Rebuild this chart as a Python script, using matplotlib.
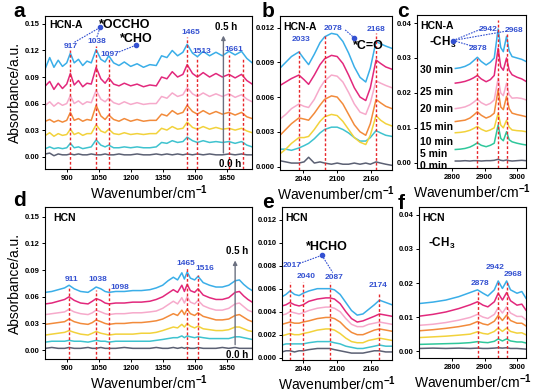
import matplotlib.pyplot as plt
from matplotlib.ticker import FormatStrFormatter

plt.rcParams['font.family'] = ['Liberation Sans', 'DejaVu Sans']
plt.rcParams['font.weight'] = 'bold'
plt.rcParams['mathtext.fontset'] = 'custom'
plt.rcParams['mathtext.rm'] = 'Liberation Sans:bold'
plt.rcParams['mathtext.bf'] = 'Liberation Sans:bold'
plt.rcParams['mathtext.default'] = 'bf'

# ---------------- data ----------------
# panel a : HCN-A, 800-1770 cm-1
a_x = [800, 820, 840, 860, 880, 900, 917, 935, 955, 975, 995, 1015, 1038, 1060, 1080,
       1097, 1120, 1145, 1170, 1200, 1230, 1260, 1290, 1320, 1345, 1370, 1395, 1420, 1445, 1465,
       1490, 1513, 1540, 1570, 1600, 1630, 1661, 1690, 1720, 1745, 1770]
a_30 = [0.100, 0.112, 0.101, 0.109, 0.102, 0.106, 0.117, 0.106, 0.110, 0.103,
        0.108, 0.106, 0.121, 0.110, 0.107, 0.114, 0.106, 0.103, 0.107, 0.102,
        0.105, 0.101, 0.104, 0.103, 0.114, 0.112, 0.120, 0.114, 0.118, 0.127,
        0.117, 0.113, 0.119, 0.114, 0.118, 0.114, 0.119, 0.115, 0.119, 0.111, 0.106]
a_25 = [0.080, 0.085, 0.076, 0.083, 0.077, 0.082, 0.094, 0.081, 0.086, 0.079,
        0.083, 0.082, 0.101, 0.088, 0.083, 0.089, 0.082, 0.080, 0.083, 0.080,
        0.082, 0.079, 0.081, 0.080, 0.090, 0.088, 0.096, 0.090, 0.093, 0.104,
        0.094, 0.090, 0.095, 0.090, 0.094, 0.090, 0.093, 0.089, 0.093, 0.086, 0.082]
a_20 = [0.058, 0.062, 0.057, 0.061, 0.058, 0.060, 0.069, 0.060, 0.063, 0.059,
        0.062, 0.061, 0.075, 0.065, 0.062, 0.066, 0.061, 0.059, 0.062, 0.059,
        0.061, 0.059, 0.060, 0.060, 0.068, 0.066, 0.072, 0.068, 0.070, 0.078,
        0.071, 0.068, 0.072, 0.068, 0.071, 0.068, 0.071, 0.067, 0.070, 0.065, 0.062]
a_15 = [0.040, 0.042, 0.039, 0.041, 0.039, 0.041, 0.050, 0.041, 0.043, 0.040,
        0.042, 0.041, 0.058, 0.046, 0.042, 0.047, 0.042, 0.040, 0.043, 0.040,
        0.042, 0.040, 0.041, 0.041, 0.048, 0.046, 0.052, 0.048, 0.050, 0.058,
        0.051, 0.048, 0.052, 0.048, 0.051, 0.048, 0.050, 0.047, 0.050, 0.045, 0.043]
a_10 = [0.024, 0.027, 0.023, 0.026, 0.024, 0.025, 0.031, 0.025, 0.027, 0.024,
        0.026, 0.026, 0.036, 0.029, 0.027, 0.031, 0.026, 0.025, 0.027, 0.025,
        0.026, 0.025, 0.026, 0.026, 0.032, 0.030, 0.034, 0.031, 0.032, 0.039,
        0.033, 0.031, 0.034, 0.031, 0.033, 0.031, 0.032, 0.030, 0.032, 0.029, 0.027]
a_5 = [0.009, 0.011, 0.009, 0.010, 0.009, 0.010, 0.015, 0.010, 0.011, 0.009,
       0.010, 0.011, 0.019, 0.013, 0.011, 0.013, 0.010, 0.010, 0.011, 0.010,
       0.011, 0.010, 0.010, 0.011, 0.016, 0.015, 0.018, 0.016, 0.017, 0.022,
       0.018, 0.016, 0.018, 0.016, 0.017, 0.016, 0.017, 0.015, 0.017, 0.013, 0.011]
a_0 = [0.003, 0.004, 0.001, 0.003, 0.002, 0.002, 0.003, 0.002, 0.003, 0.002,
       0.002, 0.003, 0.002, 0.002, 0.003, 0.002, 0.002, 0.003, 0.002, 0.002,
       0.003, 0.002, 0.002, 0.003, 0.002, 0.003, 0.002, 0.003, 0.002, 0.003,
       0.002, 0.003, 0.002, 0.003, 0.002, 0.002, 0.003, 0.002, 0.003, 0.002, 0.002]

# panel b : HCN-A, 2000-2196 cm-1
b_x = [2000, 2010, 2020, 2033, 2042, 2050, 2060, 2070, 2078, 2090, 2100,
       2110, 2120, 2130, 2140, 2150, 2158, 2168, 2176, 2185, 2196]
b_30 = [0.0085, 0.0090, 0.0095, 0.0099, 0.0093, 0.0088, 0.0097, 0.0107, 0.0112, 0.0115, 0.0114,
        0.0108, 0.0098, 0.0086, 0.0077, 0.0073, 0.0085, 0.0108, 0.0106, 0.0104, 0.0102]
b_25 = [0.0070, 0.0073, 0.0076, 0.0079, 0.0075, 0.0071, 0.0079, 0.0088, 0.0093, 0.0096, 0.0095,
        0.0089, 0.0079, 0.0068, 0.0060, 0.0057, 0.0068, 0.0092, 0.0089, 0.0086, 0.0084]
b_20 = [0.0041, 0.0045, 0.0050, 0.0054, 0.0052, 0.0051, 0.0058, 0.0068, 0.0074, 0.0079, 0.0078,
        0.0073, 0.0064, 0.0054, 0.0047, 0.0045, 0.0055, 0.0074, 0.0072, 0.0070, 0.0068]
b_15 = [0.0027, 0.0032, 0.0037, 0.0042, 0.0041, 0.0040, 0.0046, 0.0053, 0.0058, 0.0061, 0.0060,
        0.0054, 0.0045, 0.0036, 0.0030, 0.0027, 0.0037, 0.0058, 0.0055, 0.0052, 0.0050]
b_10 = [0.0011, 0.0015, 0.0020, 0.0025, 0.0025, 0.0026, 0.0032, 0.0039, 0.0043, 0.0045, 0.0044,
        0.0039, 0.0032, 0.0025, 0.0021, 0.0019, 0.0027, 0.0044, 0.0040, 0.0037, 0.0035]
b_5 = [0.0015, 0.0015, 0.0014, 0.0016, 0.0018, 0.0020, 0.0024, 0.0029, 0.0032, 0.0034, 0.0034,
       0.0032, 0.0029, 0.0025, 0.0022, 0.0022, 0.0025, 0.0031, 0.0029, 0.0027, 0.0026]
b_0 = [0.0005, 0.0004, 0.0003, 0.0003, 0.0004, 0.0008, 0.0003, 0.0004, 0.0003, 0.0002, 0.0003,
       0.0002, 0.0002, 0.0003, 0.0002, 0.0003, 0.0002, 0.0004, 0.0003, 0.0002, 0.0001]

# panel c : HCN-A, C-H stretch region
c_x = [2810, 2825, 2840, 2855, 2866, 2878, 2890, 2905, 2918, 2930,
       2942, 2950, 2958, 2968, 2976, 2985, 3000, 3015, 3028]
c_30 = [0.0270, 0.0272, 0.0276, 0.0283, 0.0292, 0.0302, 0.0290, 0.0280, 0.0288, 0.0300,
        0.0383, 0.0330, 0.0318, 0.0362, 0.0320, 0.0304, 0.0300, 0.0296, 0.0290]
c_25 = [0.0228, 0.0230, 0.0233, 0.0238, 0.0243, 0.0250, 0.0240, 0.0232, 0.0238, 0.0250,
        0.0328, 0.0275, 0.0265, 0.0300, 0.0265, 0.0252, 0.0245, 0.0240, 0.0233]
c_20 = [0.0155, 0.0157, 0.0160, 0.0166, 0.0173, 0.0182, 0.0172, 0.0165, 0.0170, 0.0180,
        0.0242, 0.0200, 0.0192, 0.0228, 0.0195, 0.0185, 0.0186, 0.0184, 0.0180]
c_15 = [0.0118, 0.0120, 0.0122, 0.0128, 0.0136, 0.0146, 0.0136, 0.0128, 0.0133, 0.0142,
        0.0209, 0.0160, 0.0152, 0.0190, 0.0155, 0.0142, 0.0138, 0.0135, 0.0132]
c_10 = [0.0086, 0.0087, 0.0089, 0.0093, 0.0098, 0.0104, 0.0096, 0.0090, 0.0094, 0.0100,
        0.0142, 0.0108, 0.0100, 0.0122, 0.0102, 0.0094, 0.0092, 0.0091, 0.0089]
c_5 = [0.0038, 0.0039, 0.0041, 0.0045, 0.0050, 0.0057, 0.0050, 0.0046, 0.0050, 0.0056,
       0.0108, 0.0070, 0.0063, 0.0089, 0.0066, 0.0060, 0.0056, 0.0053, 0.0051]
c_0 = [0.0005, 0.0005, 0.0006, 0.0005, 0.0006, 0.0006, 0.0005, 0.0006, 0.0006, 0.0007,
       0.0010, 0.0007, 0.0006, 0.0008, 0.0006, 0.0005, 0.0006, 0.0007, 0.0006]
c_times = ['30 min', '25 min', '20 min', '15 min', '10 min', '5 min', '0 min']
c_time_y = [0.0266, 0.0204, 0.0153, 0.0103, 0.0060, 0.0025, -0.0009]

# panel d : HCN, 800-1770 cm-1
d_x = [800, 830, 860, 890, 911, 935, 965, 1000, 1020, 1038, 1060, 1080, 1098, 1130, 1170,
       1210, 1250, 1290, 1320, 1350, 1375, 1400, 1420, 1440, 1452, 1465, 1480, 1500, 1516, 1540,
       1570, 1600, 1630, 1660, 1690, 1710, 1730, 1750, 1770]
d_30 = [0.065, 0.066, 0.068, 0.070, 0.073, 0.069, 0.066, 0.065, 0.068, 0.071,
        0.069, 0.066, 0.065, 0.066, 0.066, 0.067, 0.067, 0.068, 0.070, 0.073,
        0.078, 0.082, 0.079, 0.087, 0.080, 0.088, 0.081, 0.079, 0.083, 0.076,
        0.073, 0.071, 0.071, 0.073, 0.078, 0.079, 0.074, 0.070, 0.067]
d_25 = [0.052, 0.053, 0.055, 0.057, 0.060, 0.056, 0.053, 0.052, 0.055, 0.058,
        0.056, 0.053, 0.052, 0.053, 0.053, 0.054, 0.054, 0.055, 0.057, 0.060,
        0.064, 0.068, 0.065, 0.073, 0.066, 0.074, 0.067, 0.065, 0.069, 0.062,
        0.059, 0.057, 0.057, 0.059, 0.065, 0.066, 0.061, 0.057, 0.054]
d_20 = [0.040, 0.041, 0.042, 0.043, 0.046, 0.043, 0.041, 0.040, 0.042, 0.045,
        0.043, 0.041, 0.040, 0.041, 0.041, 0.042, 0.042, 0.043, 0.044, 0.047,
        0.051, 0.055, 0.052, 0.059, 0.053, 0.060, 0.054, 0.052, 0.056, 0.050,
        0.047, 0.045, 0.045, 0.047, 0.052, 0.053, 0.049, 0.045, 0.043]
d_15 = [0.029, 0.030, 0.031, 0.032, 0.035, 0.032, 0.030, 0.029, 0.031, 0.034,
        0.032, 0.030, 0.029, 0.030, 0.030, 0.031, 0.031, 0.032, 0.033, 0.035,
        0.038, 0.041, 0.039, 0.045, 0.040, 0.046, 0.041, 0.039, 0.042, 0.038,
        0.036, 0.034, 0.034, 0.035, 0.039, 0.040, 0.037, 0.034, 0.032]
d_10 = [0.017, 0.018, 0.019, 0.020, 0.022, 0.020, 0.018, 0.017, 0.019, 0.021,
        0.019, 0.018, 0.017, 0.018, 0.018, 0.018, 0.019, 0.019, 0.020, 0.022,
        0.024, 0.026, 0.025, 0.029, 0.026, 0.030, 0.027, 0.025, 0.027, 0.024,
        0.023, 0.022, 0.022, 0.023, 0.026, 0.026, 0.024, 0.022, 0.021]
d_5 = [0.009, 0.010, 0.010, 0.010, 0.011, 0.010, 0.010, 0.009, 0.010, 0.011,
       0.010, 0.010, 0.009, 0.010, 0.010, 0.010, 0.010, 0.010, 0.011, 0.012,
       0.013, 0.014, 0.014, 0.016, 0.014, 0.016, 0.015, 0.014, 0.015, 0.014,
       0.013, 0.013, 0.013, 0.013, 0.015, 0.015, 0.014, 0.013, 0.012]
d_0 = [0.002, 0.003, 0.002, 0.002, 0.003, 0.002, 0.002, 0.003, 0.002, 0.002,
       0.003, 0.002, 0.002, 0.002, 0.003, 0.002, 0.002, 0.002, 0.003, 0.002,
       0.002, 0.003, 0.002, 0.003, 0.002, 0.003, 0.002, 0.002, 0.003, 0.002,
       0.002, 0.002, 0.003, 0.002, 0.003, 0.002, 0.002, 0.002, 0.002]

# panel e : HCN, 2003-2196 cm-1
e_x = [2003, 2010, 2017, 2025, 2033, 2040, 2050, 2065, 2080, 2087, 2095,
       2105, 2115, 2125, 2135, 2145, 2155, 2165, 2174, 2185, 2196]
e_30 = [0.0053, 0.0055, 0.0058, 0.0055, 0.0054, 0.0056, 0.0058, 0.0060, 0.0060, 0.0060, 0.0059,
        0.0055, 0.0048, 0.0041, 0.0037, 0.0038, 0.0042, 0.0046, 0.0050, 0.0048, 0.0046]
e_25 = [0.0045, 0.0046, 0.0048, 0.0046, 0.0045, 0.0046, 0.0049, 0.0051, 0.0052, 0.0052, 0.0051,
        0.0047, 0.0040, 0.0034, 0.0031, 0.0032, 0.0034, 0.0036, 0.0038, 0.0037, 0.0036]
e_20 = [0.0037, 0.0038, 0.0040, 0.0039, 0.0038, 0.0039, 0.0041, 0.0043, 0.0044, 0.0044, 0.0043,
        0.0040, 0.0034, 0.0029, 0.0027, 0.0027, 0.0029, 0.0030, 0.0031, 0.0030, 0.0029]
e_15 = [0.0029, 0.0030, 0.0031, 0.0030, 0.0030, 0.0031, 0.0032, 0.0034, 0.0035, 0.0035, 0.0034,
        0.0031, 0.0026, 0.0022, 0.0020, 0.0020, 0.0022, 0.0024, 0.0025, 0.0024, 0.0023]
e_10 = [0.0019, 0.0020, 0.0021, 0.0020, 0.0020, 0.0021, 0.0022, 0.0024, 0.0025, 0.0025, 0.0024,
        0.0021, 0.0017, 0.0014, 0.0013, 0.0013, 0.0015, 0.0016, 0.0017, 0.0016, 0.0015]
e_5 = [0.0011, 0.0012, 0.0012, 0.0012, 0.0012, 0.0012, 0.0013, 0.0014, 0.0014, 0.0014, 0.0013,
       0.0012, 0.0010, 0.0009, 0.0008, 0.0008, 0.0009, 0.0010, 0.0011, 0.0010, 0.0010]
e_0 = [0.0005, 0.0006, 0.0006, 0.0005, 0.0006, 0.0006, 0.0007, 0.0008, 0.0008, 0.0008, 0.0007,
       0.0006, 0.0005, 0.0004, 0.0004, 0.0004, 0.0005, 0.0006, 0.0006, 0.0005, 0.0005]

# panel f : HCN, C-H stretch region
f_x = [2700, 2740, 2780, 2820, 2855, 2878, 2895, 2910, 2930, 2942, 2955, 2968, 2980, 3000, 3015, 3028]
f_30 = [0.0140, 0.0144, 0.0150, 0.0160, 0.0172, 0.0180, 0.0170, 0.0162,
        0.0180, 0.0206, 0.0184, 0.0206, 0.0180, 0.0170, 0.0175, 0.0155]
f_25 = [0.0103, 0.0108, 0.0115, 0.0125, 0.0136, 0.0145, 0.0135, 0.0130,
        0.0145, 0.0170, 0.0150, 0.0172, 0.0148, 0.0135, 0.0138, 0.0120]
f_20 = [0.0076, 0.0079, 0.0084, 0.0091, 0.0099, 0.0108, 0.0100, 0.0096,
        0.0108, 0.0128, 0.0112, 0.0130, 0.0112, 0.0102, 0.0102, 0.0092]
f_15 = [0.0060, 0.0063, 0.0067, 0.0072, 0.0078, 0.0087, 0.0080, 0.0077,
        0.0088, 0.0105, 0.0090, 0.0106, 0.0090, 0.0082, 0.0082, 0.0074]
f_10 = [0.0040, 0.0042, 0.0044, 0.0047, 0.0050, 0.0057, 0.0052, 0.0050,
        0.0058, 0.0068, 0.0058, 0.0068, 0.0058, 0.0053, 0.0054, 0.0048]
f_5 = [0.0020, 0.0021, 0.0022, 0.0023, 0.0025, 0.0028, 0.0026, 0.0025,
       0.0029, 0.0036, 0.0030, 0.0036, 0.0030, 0.0027, 0.0027, 0.0024]
f_0 = [0.0008, 0.0009, 0.0008, 0.0009, 0.0008, 0.0009, 0.0008, 0.0008,
       0.0009, 0.0010, 0.0009, 0.0010, 0.0008, 0.0008, 0.0007, 0.0006]

# colours: 0, 5, 10, 15, 20, 25, 30 min
cols = ['#5b6073', '#3fc3cf', '#f2d23c', '#f28b3b', '#f6aacb', '#e2287c', '#3aaee8']
cols_ch = ['#5b6073', '#2fc79b', '#f2d23c', '#f28b3b', '#f6aacb', '#e2287c', '#3aaee8']
RED = '#e8262a'
BLUE = '#3451d1'

fig = plt.figure(figsize=(5.48, 3.91), dpi=100)


def setup(ax, xlim, ylim, xt, yt, fmt):
    ax.set_xlim(xlim)
    ax.set_ylim(ylim)
    ax.set_xticks(xt)
    ax.set_yticks(yt)
    ax.yaxis.set_major_formatter(FormatStrFormatter(fmt))
    ax.tick_params(direction='out', length=2.5, width=0.7, labelsize=5.5, pad=1.5)
    for s in ax.spines.values():
        s.set_linewidth(0.8)
    ax.set_xlabel('Wavenumber/cm$^{-1}$', fontsize=10, labelpad=1)


def curves(ax, x, ys, colors):
    for y, c in zip(ys, colors):
        ax.plot(x, y, color=c, lw=1.1)


def red(ax, x, top):
    ax.plot([x, x], [ax.get_ylim()[0], top], color=RED, ls=(0, (2, 1.5)), lw=1, zorder=3)


def blab(ax, x, y, s):
    ax.text(x, y, s, color=BLUE, fontsize=6, ha='center', va='center')


def link(ax, p0, p1):
    ax.plot([p0[0], p1[0]], [p0[1], p1[1]], color=BLUE, ls=(0, (1.5, 1)), lw=0.8)


def dot(ax, x, y):
    ax.plot(x, y, 'o', ms=3, color=BLUE, zorder=4)


# ---- a ----
ax = fig.add_axes([0.0821, 0.5678, 0.3777, 0.3913])
setup(ax, (798, 1769), (-0.014, 0.159), [900, 1050, 1200, 1350, 1500, 1650],
      [0, 0.03, 0.06, 0.09, 0.12, 0.15], '%.2f')
curves(ax, a_x, [a_0, a_5, a_10, a_15, a_20, a_25, a_30], cols)
ax.set_ylabel('Absorbance/a.u.', fontsize=10, labelpad=2)
for x, t in [(917, 0.121), (1038, 0.125), (1097, 0.111), (1465, 0.135),
             (1513, 0.113), (1661, 0.115), (1725, 0.112)]:
    red(ax, x, t)
blab(ax, 918, 0.1246, '917')
blab(ax, 1040, 0.130, '1038')
blab(ax, 1100, 0.116, '1097')
blab(ax, 1480, 0.140, '1465')
blab(ax, 1532, 0.119, '1513')
blab(ax, 1685, 0.121, '1661')
link(ax, (1056, 0.146), (934, 0.129))
link(ax, (1056, 0.146), (1040, 0.134))
dot(ax, 1056, 0.146)
link(ax, (1225, 0.126), (1142, 0.118))
dot(ax, 1225, 0.126)
ax.text(1050, 0.149, '*OCCHO', fontsize=9, ha='left', va='center')
ax.text(1150, 0.133, '*CHO', fontsize=9, ha='left', va='center')
ax.annotate('', xy=(1635, 0.140), xytext=(1635, 0.001),
            arrowprops=dict(arrowstyle='-|>', color='#6b7080', lw=1, mutation_scale=6))
ax.text(1650, 0.146, '0.5 h', fontsize=7, ha='center', va='center')
ax.text(1665, -0.008, '0.0 h', fontsize=7, ha='center', va='center')
ax.text(0.02, 0.94, 'HCN-A', transform=ax.transAxes, fontsize=7.5, ha='left', va='center')

# ---- b ----
ax = fig.add_axes([0.511, 0.5652, 0.2044, 0.3939])
setup(ax, (2000, 2196), (-0.0003, 0.013), [2040, 2100, 2160],
      [0, 0.003, 0.006, 0.009, 0.012], '%.3f')
curves(ax, b_x, [b_0, b_5, b_10, b_15, b_20, b_25, b_30], cols)
red(ax, 2033, 0.0100)
red(ax, 2078, 0.0113)
red(ax, 2168, 0.0115)
blab(ax, 2037, 0.0110, '2033')
blab(ax, 2093, 0.0119, '2078')
blab(ax, 2168, 0.0118, '2168')
link(ax, (2114, 0.0118), (2130, 0.0111))
dot(ax, 2130, 0.0111)
ax.text(2127, 0.0104, '*C=O', fontsize=9, ha='left', va='center')
ax.text(0.03, 0.93, 'HCN-A', transform=ax.transAxes, fontsize=7.5, ha='left', va='center')

# ---- c ----
ax = fig.add_axes([0.761, 0.5703, 0.1989, 0.3913])
setup(ax, (2692, 3028), (-0.0015, 0.0423), [2800, 2900, 3000],
      [0, 0.01, 0.02, 0.03, 0.04], '%.2f')
curves(ax, c_x, [c_0, c_5, c_10, c_15, c_20, c_25, c_30], cols_ch)
red(ax, 2878, 0.030)
red(ax, 2942, 0.041)
red(ax, 2968, 0.037)
blab(ax, 2880, 0.0328, '2878')
blab(ax, 2910, 0.0382, '2942')
blab(ax, 2990, 0.0378, '2968')
link(ax, (2803, 0.0350), (2893, 0.0384))
link(ax, (2803, 0.0350), (2968, 0.0377))
link(ax, (2803, 0.0350), (2866, 0.0333))
dot(ax, 2803, 0.0350)
ax.text(2770, 0.0345, '-CH$_{3}$', fontsize=8.5, ha='center', va='center')
ax.text(0.03, 0.93, 'HCN-A', transform=ax.transAxes, fontsize=7.5, ha='left', va='center')
for t, y in zip(c_times, c_time_y):
    ax.text(2701, y, t, fontsize=7.5, ha='left', va='center')

# ---- d ----
ax = fig.add_axes([0.0821, 0.0818, 0.3777, 0.3887])
setup(ax, (798, 1769), (-0.010, 0.161), [900, 1050, 1200, 1350, 1500, 1650],
      [0, 0.03, 0.06, 0.09, 0.12, 0.15], '%.2f')
curves(ax, d_x, [d_0, d_5, d_10, d_15, d_20, d_25, d_30], cols)
ax.set_ylabel('Absorbance/a.u.', fontsize=10, labelpad=2)
for x, t in [(911, 0.071), (1038, 0.0675), (1098, 0.071), (1465, 0.092), (1516, 0.084)]:
    red(ax, x, t)
blab(ax, 922, 0.0795, '911')
blab(ax, 1045, 0.0795, '1038')
blab(ax, 1150, 0.071, '1098')
blab(ax, 1458, 0.098, '1465')
blab(ax, 1548, 0.092, '1516')
ax.annotate('', xy=(1690, 0.104), xytext=(1690, 0.003),
            arrowprops=dict(arrowstyle='-|>', color='#6b7080', lw=1, mutation_scale=6))
ax.text(1700, 0.111, '0.5 h', fontsize=7, ha='center', va='center')
ax.text(1700, -0.005, '0.0 h', fontsize=7, ha='center', va='center')
ax.text(0.04, 0.93, 'HCN', transform=ax.transAxes, fontsize=7.5, ha='left', va='center')

# ---- e ----
ax = fig.add_axes([0.5146, 0.0793, 0.2007, 0.3913])
setup(ax, (2003, 2196), (-0.0002, 0.0131), [2040, 2100, 2160],
      [0, 0.002, 0.004, 0.006, 0.008, 0.010, 0.012], '%.3f')
curves(ax, e_x, [e_0, e_5, e_10, e_15, e_20, e_25, e_30], cols)
red(ax, 2017, 0.0066)
red(ax, 2040, 0.0066)
red(ax, 2087, 0.0066)
red(ax, 2174, 0.0056)
blab(ax, 2020, 0.0080, '2017')
blab(ax, 2045, 0.0071, '2040')
blab(ax, 2094, 0.0070, '2087')
blab(ax, 2171, 0.0063, '2174')
link(ax, (2073, 0.0089), (2034, 0.0082))
link(ax, (2073, 0.0089), (2092, 0.0074))
dot(ax, 2073, 0.0089)
ax.text(2082, 0.0096, '*HCHO', fontsize=9, ha='center', va='center')
ax.text(0.03, 0.93, 'HCN', transform=ax.transAxes, fontsize=7.5, ha='left', va='center')

# ---- f ----
ax = fig.add_axes([0.7646, 0.0844, 0.1953, 0.3862])
setup(ax, (2697, 3028), (-0.002, 0.0423), [2800, 2900, 3000],
      [0, 0.01, 0.02, 0.03, 0.04], '%.2f')
curves(ax, f_x, [f_0, f_5, f_10, f_15, f_20, f_25, f_30], cols_ch)
red(ax, 2878, 0.018)
red(ax, 2942, 0.0205)
red(ax, 2968, 0.0205)
blab(ax, 2885, 0.0200, '2878')
blab(ax, 2933, 0.0246, '2942')
blab(ax, 2988, 0.0225, '2968')
ax.text(2768, 0.0317, '-CH$_{3}$', fontsize=8.5, ha='center', va='center')
ax.text(0.03, 0.93, 'HCN', transform=ax.transAxes, fontsize=7.5, ha='left', va='center')

# panel letters
for x, y, s in [(0.024, 0.995, 'a'), (0.478, 0.995, 'b'), (0.724, 0.995, 'c'),
                (0.024, 0.512, 'd'), (0.478, 0.507, 'e'), (0.726, 0.503, 'f')]:
    fig.text(x, y, s, fontsize=15, fontweight='bold', va='top', ha='left')

fig.savefig('out.png', dpi=100)
